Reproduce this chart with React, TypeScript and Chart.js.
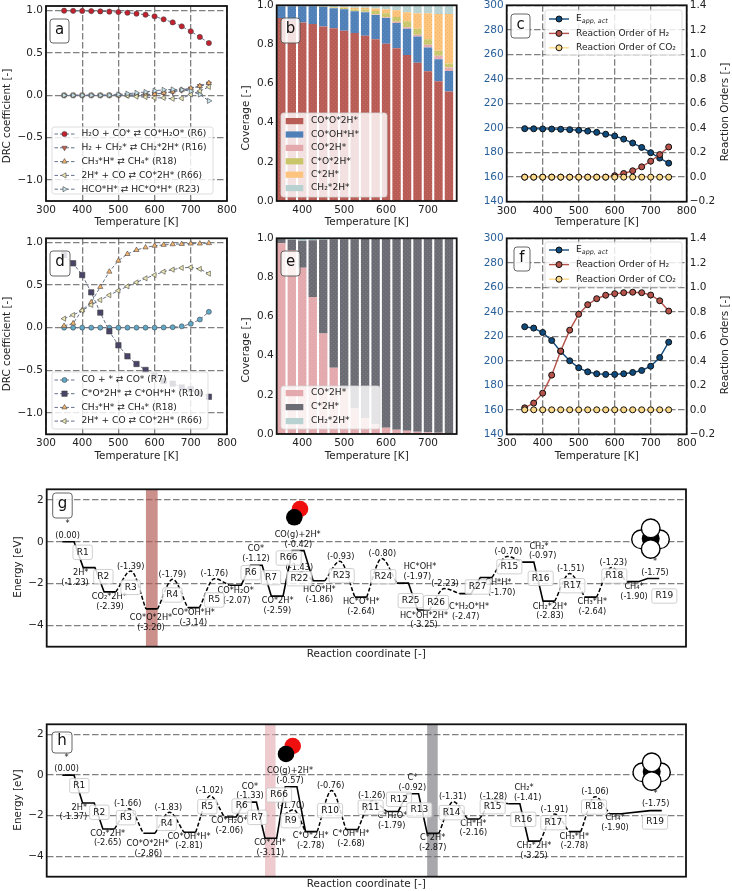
import React, { useEffect, useRef } from "react";
import { Chart, registerables } from "chart.js";
import { drawPoint } from "chart.js/helpers";

Chart.register(...registerables);
Chart.defaults.font.family = "'DejaVu Sans'";
Chart.defaults.color = "#222";

// ---------- data ----------
const temps = [350, 375, 400, 425, 450, 475, 500, 525, 550, 575, 600, 625, 650, 675, 700, 725, 750];
const tempTicks = [300, 400, 500, 600, 700, 800];
const barTempTicks = [400, 500, 600, 700];
const drcTicks = [-1, -0.5, 0, 0.5, 1];
const coverageTicks = [0, 0.2, 0.4, 0.6, 0.8, 1];
const eappTicks = [140, 160, 180, 200, 220, 240, 260, 280, 300];
const orderTicks = [-0.2, 0, 0.2, 0.4, 0.6, 0.8, 1, 1.2, 1.4];
const energyTicks = [-4, -2, 0, 2];

const aR6 = [1.0, 0.998, 0.997, 0.995, 0.992, 0.989, 0.984, 0.976, 0.965, 0.953, 0.933, 0.898, 0.862, 0.815, 0.756, 0.69, 0.618];
const aR16 = [0, 0, 0, 0, 0, 0, 0.001, 0.002, 0.004, 0.008, 0.015, 0.025, 0.04, 0.06, 0.08, 0.11, 0.14];
const aR18 = [0, 0, 0, 0, 0, 0, 0.001, 0.002, 0.005, 0.009, 0.015, 0.03, 0.045, 0.065, 0.085, 0.11, 0.145];
const aR66 = [0, 0, 0, 0, 0, 0, 0.002, -0.005, -0.015, -0.02, -0.03, -0.03, -0.04, -0.035, 0.01, 0.05, 0.1];
const aR23 = [0, 0, 0, 0, 0, 0.002, 0.01, 0.02, 0.03, 0.04, 0.055, 0.065, 0.07, 0.065, 0.05, 0.01, -0.065];

const bRed = [0.935, 0.925, 0.912, 0.905, 0.892, 0.883, 0.87, 0.859, 0.845, 0.826, 0.804, 0.78, 0.746, 0.707, 0.663, 0.612, 0.559];
const bBlue = [0.06, 0.07, 0.083, 0.09, 0.101, 0.102, 0.11, 0.111, 0.12, 0.124, 0.131, 0.13, 0.134, 0.133, 0.121, 0.112, 0.105];
const bPink = [0, 0, 0, 0, 0, 0, 0, 0.001, 0.002, 0.003, 0.004, 0.006, 0.008, 0.01, 0.015, 0.018, 0.018];
const bOlive = [0, 0, 0, 0, 0.002, 0.004, 0.006, 0.008, 0.012, 0.018, 0.02, 0.024, 0.03, 0.03, 0.028, 0.026, 0.02];
const bOrange = [0, 0, 0, 0, 0, 0.002, 0.004, 0.008, 0.009, 0.013, 0.021, 0.035, 0.047, 0.08, 0.133, 0.187, 0.253];
const bTeal = [0.005, 0.005, 0.005, 0.005, 0.005, 0.009, 0.01, 0.013, 0.012, 0.016, 0.02, 0.025, 0.035, 0.04, 0.04, 0.045, 0.045];

const cEapp = [199.5, 199.4, 199.3, 199.2, 199, 198.7, 198.2, 197.5, 196.5, 195, 193.5, 191, 187.8, 184.2, 179.9, 175.5, 171.4];
const cOrderH2 = [0, 0, 0, 0, 0, 0, 0, 0, 0, 0, 0.012, 0.03, 0.052, 0.084, 0.13, 0.184, 0.246];
const cOrderCO2 = [0, 0, 0, 0, 0, 0, 0, 0, 0, 0, 0, 0, 0, 0, 0, 0, 0];

const dR7 = [0, 0, 0, 0, 0, 0, 0, 0, 0, 0, 0, 0.002, 0.005, 0.015, 0.045, 0.095, 0.185];
const dR10 = [0.85, 0.754, 0.617, 0.414, 0.176, -0.043, -0.207, -0.336, -0.426, -0.496, -0.56, -0.625, -0.656, -0.7, -0.72, -0.77, -0.81];
const dR18 = [0.02, 0.05, 0.207, 0.297, 0.477, 0.656, 0.785, 0.863, 0.91, 0.94, 0.96, 0.97, 0.977, 0.98, 0.985, 0.985, 0.99];
const dR66 = [0.105, 0.148, 0.2, 0.266, 0.324, 0.38, 0.434, 0.484, 0.53, 0.578, 0.617, 0.656, 0.68, 0.7, 0.707, 0.688, 0.633];

const ePink = [0.975, 0.94, 0.85, 0.7, 0.513, 0.339, 0.23, 0.13, 0.08, 0.05, 0.032, 0.022, 0.017, 0.012, 0.009, 0.006, 0.005];
const eTeal = [0.003, 0.008, 0.012, 0.01, 0.008, 0.005, 0.005, 0.005, 0.003, 0.002, 0, 0, 0, 0, 0, 0, 0];
const eGray = [0.022, 0.052, 0.138, 0.29, 0.479, 0.656, 0.765, 0.865, 0.917, 0.948, 0.968, 0.978, 0.983, 0.988, 0.991, 0.994, 0.995];

const fEapp = [227.8, 226.7, 223.1, 216.6, 207.6, 200, 194.3, 191, 189.4, 188.9, 188.9, 189.4, 190.5, 192.1, 195.6, 202.7, 215.2];
const fOrderH2 = [0.016, 0.055, 0.136, 0.283, 0.48, 0.65, 0.78, 0.858, 0.907, 0.935, 0.948, 0.956, 0.96, 0.956, 0.937, 0.89, 0.806];
const fOrderCO2 = [0, 0, 0, 0, 0, 0, 0, 0, 0, 0, 0, 0, 0, 0, 0, 0, 0];

// energy of each state along the pathway; one entry per slot of the reaction coordinate
const gLevels = [0, -1.23, -2.39, -1.39, -3.2, -1.79, -3.14, -1.76, -2.07, -1.12, -2.59, -0.42, -1.86, -0.93, -2.64, -0.8, -1.97, -3.25, -2.23, -2.47, -1.7, -0.7, -0.97, -2.83, -1.51, -2.64, -1.23, -1.9, -1.75];
const gBarriers = [3, 5, 7, 13, 15, 18, 21, 24, 26];
const gExtraX = [11.1, 11.45, 12];
const gExtraE = [-1.62, -1.43, -1.86];
const hLevels = [0, -1.37, -2.65, -1.66, -2.86, -1.83, -2.81, -1.02, -2.06, -1.33, -3.11, -0.57, -2.78, -0.76, -2.68, -1.26, -1.79, -0.92, -2.87, -1.31, -2.16, -1.28, -1.41, -3.25, -1.91, -2.78, -1.06, -1.9, null, -1.75];
const hBarriers = [3, 5, 7, 13, 15, 19, 21, 24, 26];
const hExtraX = [10.95, 11.4, 12];
const hExtraE = [-1.95, -1.7, -2.78];

// ---------- label layout (reference px at 3x, relative to the crop origin of each diagram) ----------
type Note = [number, number, string];
const gNotes: Note[] = [
  [203, 133, "*"], [203, 167, "(0.00)"], [242, 280, "2H*"], [225, 310, "(-1.23)"],
  [328, 352, "CO₂*2H*"], [330, 381, "(-2.39)"], [392, 260, "(-1.39)"],
  [453, 415, "CO*O*2H*"], [453, 445, "(-3.20)"], [517, 285, "(-1.79)"],
  [580, 398, "CO*OH*H*"], [580, 428, "(-3.14)"], [643, 283, "(-1.76)"],
  [707, 332, "CO*H₂O*"], [710, 362, "(-2.07)"], [768, 208, "CO*"], [768, 238, "(-1.12)"],
  [833, 364, "CO*2H*"], [832, 393, "(-2.59)"], [893, 165, "CO(g)+2H*"], [895, 195, "(-0.42)"],
  [898, 263, "(-1.43)"], [958, 331, "HCO*H*"], [958, 360, "(-1.86)"], [1022, 232, "(-0.93)"],
  [1084, 367, "HC*O*H*"], [1083, 396, "(-2.64)"], [1147, 222, "(-0.80)"],
  [1260, 262, "HC*OH*"], [1252, 291, "(-1.97)"], [1335, 312, "(-2.23)"],
  [1272, 407, "HC*OH*2H*"], [1272, 436, "(-3.25)"], [1407, 382, "C*H₂O*H*"], [1397, 411, "(-2.47)"],
  [1495, 308, "CH*H*"], [1505, 338, "(-1.70)"], [1525, 216, "(-0.70)"],
  [1617, 200, "CH₂*"], [1628, 228, "(-0.97)"], [1650, 381, "CH₂*2H*"], [1650, 409, "(-2.83)"],
  [1712, 267, "(-1.51)"], [1777, 367, "CH₃*H*"], [1777, 396, "(-2.64)"], [1840, 249, "(-1.23)"],
  [1902, 322, "CH₄*"], [1902, 350, "(-1.90)"], [1965, 245, "*"], [1965, 278, "(-1.75)"],
];
const gSteps: Note[] = [
  [248, 217, "R1"], [310, 290, "R2"], [392, 322, "R3"], [517, 345, "R4"], [643, 360, "R5"],
  [752, 278, "R6"], [813, 293, "R7"], [866, 234, "R66"], [898, 296, "R22"], [1025, 287, "R23"],
  [1150, 290, "R24"], [1232, 362, "R25"], [1308, 368, "R26"], [1433, 321, "R27"], [1528, 260, "R15"],
  [1622, 295, "R16"], [1717, 317, "R17"], [1843, 288, "R18"], [1993, 348, "R19"],
];
const hNotes: Note[] = [
  [200, 130, "*"], [200, 162, "(0.00)"], [238, 278, "2H*"], [220, 307, "(-1.37)"],
  [323, 356, "CO₂*2H*"], [323, 385, "(-2.65)"], [383, 268, "(-1.66)"],
  [443, 387, "CO*O*2H*"], [445, 417, "(-2.86)"], [505, 278, "(-1.83)"],
  [567, 365, "CO*OH*H*"], [567, 394, "(-2.81)"], [628, 228, "(-1.02)"],
  [688, 319, "CO*H₂O*"], [688, 348, "(-2.06)"], [750, 215, "CO*"], [750, 244, "(-1.33)"],
  [810, 384, "CO*2H*"], [811, 414, "(-3.11)"], [870, 168, "CO(g)+2H*"], [870, 197, "(-0.57)"],
  [872, 273, "(-1.70)"], [932, 364, "C*O*2H*"], [932, 393, "(-2.78)"], [992, 212, "(-0.76)"],
  [1053, 358, "C*OH*H*"], [1053, 387, "(-2.68)"], [1115, 243, "(-1.26)"],
  [1177, 303, "C*H₂O*"], [1175, 332, "(-1.79)"], [1237, 190, "C*"], [1237, 218, "(-0.92)"],
  [1298, 370, "C*2H*"], [1298, 398, "(-2.87)"], [1358, 246, "(-1.31)"], [1420, 326, "CH*H*"], [1420, 355, "(-2.16)"],
  [1480, 245, "(-1.28)"], [1572, 220, "CH₂*"], [1583, 249, "(-1.41)"], [1602, 393, "CH₂*2H*"], [1602, 423, "(-3.25)"],
  [1663, 284, "(-1.91)"], [1723, 365, "CH₃*H*"], [1723, 394, "(-2.78)"], [1785, 231, "(-1.06)"],
  [1845, 310, "CH₄*"], [1845, 339, "(-1.90)"], [1967, 237, "*"], [1967, 268, "(-1.75)"],
];
const hSteps: Note[] = [
  [238, 212, "R1"], [298, 292, "R2"], [378, 308, "R3"], [500, 325, "R4"], [622, 275, "R5"],
  [725, 273, "R6"], [772, 307, "R7"], [837, 240, "R66"], [872, 317, "R9"], [990, 287, "R10"],
  [1112, 277, "R11"], [1197, 253, "R12"], [1258, 285, "R13"], [1355, 293, "R14"], [1478, 275, "R15"],
  [1570, 313, "R16"], [1660, 323, "R17"], [1782, 276, "R18"], [1965, 321, "R19"],
];

// ---------- styles ----------
const BLUE_TEXT = "#2a6099";
const C_RED = "#b85c55", C_BLUE = "#4f80b8", C_PINK = "#e3a9ad", C_OLIVE = "#c9c66a", C_ORANGE = "#fcc47c", C_TEAL = "#b8d2d2", C_GRAY = "#6c6c74";
const DASH_LINE = "#66728a";

function hatched(color: string, dot = "rgba(255,255,255,0.22)") {
  const c = document.createElement("canvas");
  c.width = 4; c.height = 4;
  const x = c.getContext("2d")!;
  x.fillStyle = color; x.fillRect(0, 0, 4, 4);
  x.fillStyle = dot; x.fillRect(0, 0, 1, 1); x.fillRect(2, 2, 1, 1);
  return x.createPattern(c, "repeat");
}

const xy = (vals: number[]) => temps.map((x, i) => ({ x, y: vals[i] }));

function drcSeries(label: string, vals: number[], fill: string, style: string, rot: number, radius: number, i: number, n: number) {
  return {
    label, data: xy(vals), borderColor: DASH_LINE, borderWidth: 1, borderDash: [3.5, 2],
    backgroundColor: fill, pointBackgroundColor: fill, pointBorderColor: "#444", pointBorderWidth: 0.6,
    pointStyle: style, pointRotation: rot, pointRadius: radius, order: n - i,
  };
}
function orderSeries(label: string, vals: number[], color: string, axis: string, i: number, lw = 1.4) {
  return {
    label, data: xy(vals), yAxisID: axis, borderColor: color, borderWidth: lw,
    backgroundColor: color, pointBackgroundColor: color, pointBorderColor: "#111", pointBorderWidth: 1,
    pointStyle: "circle", pointRadius: 3, order: 3 - i,
  };
}
function stackSeries(label: string, vals: number[], color: string, dot?: string) {
  return { label, data: xy(vals), backgroundColor: hatched(color, dot), borderWidth: 0, stack: "s" };
}

function energySeries(levels: (number | null)[], barriers: number[], w: number, exX: number[], exE: number[]) {
  const out: any[] = [];
  const solid: any[] = [];
  const dashed = { borderColor: "#000", borderWidth: 1.5, borderDash: [4, 2], pointRadius: 0, cubicInterpolationMode: "monotone" };
  levels.forEach((e, i) => {
    if (e === null) return;
    if (barriers.includes(i)) {
      solid.push({ x: i, y: null });
      out.push({ label: "barrier " + i, ...dashed, data: [{ x: i - 1 + w, y: levels[i - 1] }, { x: i + w / 2, y: e }, { x: i + 1, y: levels[i + 1] }] });
      return;
    }
    solid.push({ x: i, y: e }, { x: i + w, y: e });
  });
  out.push({ label: "barrier extra", ...dashed, data: exX.map((x, i) => ({ x, y: exE[i] })) });
  out.push({ label: "states", borderColor: "#000", borderWidth: 1.6, pointRadius: 0, data: solid, spanGaps: false });
  return out;
}

// ---------- canvas drawing helpers ----------
function richParts(text: string) {
  return text.split(/(\{[^}]*\})/).filter(Boolean).map((p) => (p[0] === "{" ? { t: p.slice(1, -1), sub: true } : { t: p, sub: false }));
}
function richWidth(ctx: any, text: string, size: number) {
  let w = 0;
  for (const p of richParts(text)) {
    ctx.font = (p.sub ? "italic " : "") + (p.sub ? size * 0.7 : size) + "px 'DejaVu Sans'";
    w += ctx.measureText(p.t).width;
  }
  return w;
}
function drawRich(ctx: any, text: string, x: number, y: number, size: number, color: string) {
  ctx.fillStyle = color; ctx.textAlign = "left"; ctx.textBaseline = "middle";
  let cx = x;
  for (const p of richParts(text)) {
    ctx.font = (p.sub ? "italic " : "") + (p.sub ? size * 0.7 : size) + "px 'DejaVu Sans'";
    ctx.fillText(p.t, cx, p.sub ? y + size * 0.22 : y);
    cx += ctx.measureText(p.t).width;
  }
}
function roundBox(ctx: any, x: number, y: number, w: number, h: number, r: number, fill: string, stroke: string, lw = 0.8) {
  ctx.beginPath(); ctx.roundRect(x, y, w, h, r);
  ctx.fillStyle = fill; ctx.fill();
  ctx.strokeStyle = stroke; ctx.lineWidth = lw; ctx.stroke();
}

const overlay = (spec: any) => ({
  id: "panelOverlay",
  beforeDatasetsDraw(chart: any) {
    if (!spec.bands) return;
    const { ctx, chartArea: a, scales } = chart;
    for (const b of spec.bands) {
      const x0 = scales.x.getPixelForValue(b.from), x1 = scales.x.getPixelForValue(b.to);
      ctx.fillStyle = b.color;
      ctx.fillRect(x0, a.top, x1 - x0, a.bottom - a.top);
    }
  },
  afterDatasetsDraw(chart: any) {
    const { ctx, chartArea: a } = chart;
    ctx.save();
    ctx.translate(-spec.canvas[0], -spec.canvas[2]);

    for (const m of spec.mol || []) {
      ctx.beginPath(); ctx.arc(m.x, m.y, m.r, 0, Math.PI * 2);
      ctx.fillStyle = m.fill; ctx.fill();
      if (m.stroke) { ctx.strokeStyle = m.stroke; ctx.lineWidth = 1.4; ctx.stroke(); }
    }

    if (spec.notes) {
      ctx.font = "8.2px 'DejaVu Sans'"; ctx.textAlign = "center"; ctx.textBaseline = "middle"; ctx.fillStyle = "#111";
      for (const [x, y, t] of spec.notes) ctx.fillText(t, x / 3, spec.noteY + y / 3);
    }
    if (spec.steps) {
      for (const [x, y, t] of spec.steps) {
        const px = x / 3, py = spec.noteY + y / 3;
        ctx.font = "9px 'DejaVu Sans'";
        const w = ctx.measureText(t).width + 7.4;
        roundBox(ctx, px - w / 2, py - 7.2, w, 14.4, 2, "rgba(255,255,255,0.82)", "#c4c4c4");
        ctx.fillStyle = "#111"; ctx.textAlign = "center"; ctx.textBaseline = "middle";
        ctx.fillText(t, px, py);
      }
    }

    const lg = spec.legend;
    if (lg) {
      roundBox(ctx, lg.x, lg.y, lg.w, lg.h, 2.5, "rgba(255,255,255,0.82)", "#d4d4d4");
      lg.items.forEach((it: any, i: number) => {
        const y = lg.first + lg.step * i;
        if (it.swatch) {
          ctx.fillStyle = it.swatch;
          ctx.fillRect(lg.sx, y - 3, lg.sw, 6.2);
        } else {
          ctx.save();
          ctx.strokeStyle = it.line; ctx.lineWidth = it.lw; ctx.setLineDash(it.dash || []);
          ctx.beginPath(); ctx.moveTo(lg.sx, y); ctx.lineTo(lg.sx + lg.sw, y); ctx.stroke();
          ctx.setLineDash([]);
          ctx.fillStyle = it.fill; ctx.strokeStyle = it.edge; ctx.lineWidth = it.ew;
          drawPoint(ctx, { pointStyle: it.style, rotation: it.rot || 0, radius: it.r, borderWidth: it.ew }, lg.sx + lg.sw / 2, y);
          ctx.restore();
        }
        drawRich(ctx, it.text, lg.tx, y, lg.size, "#222");
      });
    }

    if (spec.tag) {
      const t = spec.tag;
      roundBox(ctx, t.x, t.y, t.w, t.h, 3, "rgba(255,255,255,0.82)", "#555", 0.9);
      ctx.fillStyle = "#111"; ctx.font = "15px 'DejaVu Sans'"; ctx.textAlign = "center"; ctx.textBaseline = "middle";
      ctx.fillText(t.text, t.x + t.w / 2, t.y + t.h / 2 - 1);
    }

    for (const v of spec.vtitles || []) {
      ctx.save();
      ctx.translate(v.x, v.y); ctx.rotate(-Math.PI / 2);
      const w = richWidth(ctx, v.text, 10.4);
      drawRich(ctx, v.text, -w / 2, 0, 10.4, v.color || "#222");
      ctx.restore();
    }
    ctx.restore();

    ctx.strokeStyle = "#111"; ctx.lineWidth = 1.8;
    ctx.strokeRect(a.left, a.top, a.right - a.left, a.bottom - a.top);
  },
});

function fixedTicks(list: number[]) {
  return (scale: any) => { scale.ticks = list.map((value) => ({ value })); };
}
const minus = (s: string) => s.replace("-", "−");
const f1 = (v: any) => minus(Number(v).toFixed(1));
const f0 = (v: any) => minus(Number(v).toFixed(0));

const GRID = { color: "#808080", lineWidth: 1.3, drawTicks: false };
const NO_GRID = { display: false, drawTicks: false };
const GRID_BORDER = { display: false, dash: [6.5, 2.5] };
const TICK_FONT = { size: 10.5 };

function makeConfig(spec: any) {
  const [x0, x1, y0, y1] = spec.canvas;
  const [L, R, T, B] = spec.plot;
  const scales: any = {
    x: {
      type: "linear", min: spec.x[0], max: spec.x[1], offset: false,
      stacked: spec.type === "bar" ? true : undefined,
      afterBuildTicks: fixedTicks(spec.xTicks || []),
      afterFit: (s: any) => { s.height = y1 - B; },
      ticks: { display: !!spec.xTicks, callback: f0, font: TICK_FONT, padding: 3, autoSkip: false, maxRotation: 0, color: "#222" },
      grid: spec.xGrid ? GRID : NO_GRID,
      border: GRID_BORDER,
      title: { display: true, text: spec.xTitle, font: { size: 10.4 }, padding: 0, color: "#222" },
    },
    y: {
      type: "linear", min: spec.y[0], max: spec.y[1],
      stacked: spec.type === "bar" ? true : undefined,
      afterBuildTicks: fixedTicks(spec.yTicks),
      afterFit: (s: any) => { s.width = L - x0; },
      ticks: { callback: spec.yFmt, font: TICK_FONT, padding: 3, autoSkip: false, color: spec.yColor || "#222" },
      grid: spec.yGrid ? GRID : NO_GRID,
      border: GRID_BORDER,
    },
  };
  if (spec.y2) {
    scales.y2 = {
      type: "linear", position: "right", min: spec.y2[0], max: spec.y2[1],
      afterBuildTicks: fixedTicks(spec.y2Ticks),
      afterFit: (s: any) => { s.width = x1 - R; },
      ticks: { callback: f1, font: TICK_FONT, padding: 3, autoSkip: false, color: "#222" },
      grid: NO_GRID,
      border: { display: false },
    };
  }
  return {
    type: spec.type,
    data: { datasets: spec.datasets() },
    plugins: [overlay(spec)],
    options: {
      responsive: false, animation: false, events: [],
      layout: { padding: { left: 0, top: T - y0, right: spec.y2 ? 0 : x1 - R, bottom: 0 } },
      datasets: { bar: { categoryPercentage: 1, barPercentage: 0.8 } },
      plugins: { legend: { display: false }, tooltip: { enabled: false } },
      scales,
    },
  };
}

function Panel({ spec }: { spec: any }) {
  const ref = useRef<HTMLCanvasElement>(null);
  useEffect(() => {
    const chart = new Chart(ref.current as any, makeConfig(spec) as any);
    return () => chart.destroy();
  }, []);
  const [x0, x1, y0, y1] = spec.canvas;
  return <canvas ref={ref} width={x1 - x0} height={y1 - y0} style={{ position: "absolute", left: x0, top: y0, width: x1 - x0, height: y1 - y0 }} />;
}

const dashItem = (text: string, fill: string, style: string, rot: number, r: number) => ({ text, fill, style, rot, r, line: DASH_LINE, lw: 1, dash: [3.5, 2], edge: "#444", ew: 0.6 });
const orderItem = (text: string, color: string, lw = 1.4) => ({ text, fill: color, style: "circle", rot: 0, r: 3, line: color, lw, edge: "#111", ew: 1 });
const swatch = (text: string, color: string) => ({ text, swatch: color });

const TEMP = "Temperature [K]";
const RED_D = "#c4202e", OR_DOWN = "#c9604d", OR_UP = "#f7b46c", PALE_Y = "#f1ecb4", PALE_B = "#c8e6ee", TEAL_C = "#5fa8c8", PURP = "#4a4468";
const E_C = "#0f4a7d", H2_C = "#b5524a", CO2_C = "#fdd98a";
const LEGEND_SIZE = 9.1;
const DOT_SOFT = "rgba(255,255,255,0.1)";

const whiteAtom = (x: number, y: number) => ({ x, y, r: 9.3, fill: "#fff", stroke: "#000" });
const molG = [
  { x: 300, y: 509, r: 8.3, fill: "#f00f0f" }, { x: 294.3, y: 517.3, r: 8.3, fill: "#000" },
  whiteAtom(641, 539.3), whiteAtom(660, 539.3),
  { x: 650.7, y: 538.5, r: 9, fill: "#000" },
  whiteAtom(650.7, 528.3), whiteAtom(650.7, 549),
];
const molH = [
  { x: 292.7, y: 746, r: 8.3, fill: "#f00f0f" }, { x: 286, y: 754, r: 8.3, fill: "#000" },
  whiteAtom(642.3, 772.3), whiteAtom(661, 772.3),
  { x: 651.7, y: 771.7, r: 9, fill: "#000" },
  whiteAtom(651.7, 762.3), whiteAtom(651.7, 781),
];

const specs: any[] = [
  {
    canvas: [0, 240, -4, 229], plot: [46, 227, 6, 201], type: "line", x: [300, 800], y: [-1.248, 1.0555],
    xTicks: tempTicks, yTicks: drcTicks, yFmt: f1, xGrid: true, yGrid: true, xTitle: TEMP,
    datasets: () => [
      drcSeries("R6", aR6, RED_D, "circle", 0, 2.6, 0, 5), drcSeries("R16", aR16, OR_DOWN, "triangle", 180, 3, 1, 5),
      drcSeries("R18", aR18, OR_UP, "triangle", 0, 3, 2, 5), drcSeries("R66", aR66, PALE_Y, "triangle", -90, 3, 3, 5),
      drcSeries("R23", aR23, PALE_B, "triangle", 90, 3, 4, 5),
    ],
    legend: {
      x: 52, y: 127, w: 161, h: 67, first: 134, step: 13.8, sx: 54.5, sw: 20, tx: 81.5, size: LEGEND_SIZE,
      items: [
        dashItem("H₂O + CO* ⇄ CO*H₂O* (R6)", RED_D, "circle", 0, 2.6), dashItem("H₂ + CH₂* ⇄ CH₂*2H* (R16)", OR_DOWN, "triangle", 180, 3),
        dashItem("CH₃*H* ⇄ CH₄* (R18)", OR_UP, "triangle", 0, 3), dashItem("2H* + CO ⇄ CO*2H* (R66)", PALE_Y, "triangle", -90, 3),
        dashItem("HCO*H* ⇄ HC*O*H* (R23)", PALE_B, "triangle", 90, 3),
      ],
    },
    tag: { x: 50, y: 19, w: 19, h: 24, text: "a" },
    vtitles: [{ x: 7.3, y: 116, text: "DRC coefficient [-]" }],
  },
  {
    canvas: [239, 465, -4, 229], plot: [276.7, 456.7, 5.3, 201], type: "bar", x: [339, 768.5], y: [0, 1],
    xTicks: barTempTicks, yTicks: coverageTicks, yFmt: f1, xTitle: TEMP,
    datasets: () => [
      stackSeries("CO*O*2H*", bRed, C_RED, DOT_SOFT), stackSeries("CO*OH*H*", bBlue, C_BLUE, DOT_SOFT), stackSeries("CO*2H*", bPink, C_PINK),
      stackSeries("C*O*2H*", bOlive, C_OLIVE), stackSeries("C*2H*", bOrange, C_ORANGE, "rgba(230,140,60,0.3)"), stackSeries("CH₂*2H*", bTeal, C_TEAL),
    ],
    legend: {
      x: 281, y: 113, w: 106, h: 84, first: 121, step: 13.4, sx: 285.7, sw: 17.6, tx: 311, size: LEGEND_SIZE,
      items: [swatch("CO*O*2H*", C_RED), swatch("CO*OH*H*", C_BLUE), swatch("CO*2H*", C_PINK), swatch("C*O*2H*", C_OLIVE), swatch("C*2H*", C_ORANGE), swatch("CH₂*2H*", C_TEAL)],
    },
    tag: { x: 281, y: 18, w: 19, h: 25, text: "b" },
    vtitles: [{ x: 246, y: 118, text: "Coverage [-]" }, { x: 471.5, y: 103, text: "E{app, act} [kJ/mol]", color: BLUE_TEXT }],
  },
  {
    canvas: [465, 732, -4, 229], plot: [506.7, 686.7, 5.3, 201.7], type: "line", x: [300, 800], y: [140, 300],
    y2: [-0.2, 1.4], y2Ticks: orderTicks, xTicks: tempTicks, yTicks: eappTicks, yFmt: f0, yColor: BLUE_TEXT, xGrid: true, yGrid: true, xTitle: TEMP,
    datasets: () => [orderSeries("Eapp", cEapp, E_C, "y", 0), orderSeries("H2", cOrderH2, H2_C, "y2", 1), orderSeries("CO2", cOrderCO2, CO2_C, "y2", 2)],
    legend: {
      x: 545, y: 10, w: 137, h: 45, first: 19, step: 14.4, sx: 549, sw: 20, tx: 576, size: LEGEND_SIZE,
      items: [orderItem("E{app, act}", E_C), orderItem("Reaction Order of H₂", H2_C), orderItem("Reaction Order of CO₂", CO2_C)],
    },
    tag: { x: 511, y: 14, w: 19, h: 24, text: "c" },
    vtitles: [{ x: 725, y: 112, text: "Reaction Orders [-]" }],
  },
  {
    canvas: [0, 240, 229, 463], plot: [46, 227, 238.3, 434.3], type: "line", x: [300, 800], y: [-1.25, 1.047],
    xTicks: tempTicks, yTicks: drcTicks, yFmt: f1, xGrid: true, yGrid: true, xTitle: TEMP,
    datasets: () => [
      drcSeries("R7", dR7, TEAL_C, "circle", 0, 2.5, 0, 4), drcSeries("R10", dR10, PURP, "rect", 0, 3.8, 1, 4),
      drcSeries("R18", dR18, OR_UP, "triangle", 0, 3, 2, 4), drcSeries("R66", dR66, PALE_Y, "triangle", -90, 3, 3, 4),
    ],
    legend: {
      x: 52, y: 372, w: 156, h: 57, first: 380, step: 13.7, sx: 54.5, sw: 20, tx: 81.5, size: LEGEND_SIZE,
      items: [
        dashItem("CO + * ⇄ CO* (R7)", TEAL_C, "circle", 0, 2.5), dashItem("C*O*2H* ⇄ C*OH*H* (R10)", PURP, "rect", 0, 3.8),
        dashItem("CH₃*H* ⇄ CH₄* (R18)", OR_UP, "triangle", 0, 3), dashItem("2H* + CO ⇄ CO*2H* (R66)", PALE_Y, "triangle", -90, 3),
      ],
    },
    tag: { x: 50, y: 251, w: 20, h: 25, text: "d" },
    vtitles: [{ x: 7.3, y: 344, text: "DRC coefficient [-]" }],
  },
  {
    canvas: [239, 465, 229, 463], plot: [276.7, 456.7, 238.3, 434], type: "bar", x: [339, 768.5], y: [0, 1],
    xTicks: barTempTicks, yTicks: coverageTicks, yFmt: f1, xTitle: TEMP,
    datasets: () => [stackSeries("CO*2H*", ePink, C_PINK, "rgba(255,255,255,0.14)"), stackSeries("C*2H*", eGray, C_GRAY, DOT_SOFT), stackSeries("CH₂*2H*", eTeal, C_TEAL)],
    legend: {
      x: 281, y: 386, w: 99, h: 43, first: 393, step: 14, sx: 285.7, sw: 17.6, tx: 311, size: LEGEND_SIZE,
      items: [swatch("CO*2H*", C_PINK), swatch("C*2H*", C_GRAY), swatch("CH₂*2H*", C_TEAL)],
    },
    tag: { x: 281, y: 251, w: 19, h: 25, text: "e" },
    vtitles: [{ x: 246, y: 350, text: "Coverage [-]" }, { x: 471.5, y: 336, text: "E{app, act} [kJ/mol]", color: BLUE_TEXT }],
  },
  {
    canvas: [465, 732, 229, 463], plot: [506.7, 686.7, 238.3, 434.3], type: "line", x: [300, 800], y: [140, 300],
    y2: [-0.2, 1.4], y2Ticks: orderTicks, xTicks: tempTicks, yTicks: eappTicks, yFmt: f0, yColor: BLUE_TEXT, xGrid: true, yGrid: true, xTitle: TEMP,
    datasets: () => [orderSeries("Eapp", fEapp, E_C, "y", 0), orderSeries("H2", fOrderH2, H2_C, "y2", 1), orderSeries("CO2", fOrderCO2, CO2_C, "y2", 2)],
    legend: {
      x: 545, y: 242, w: 137, h: 45, first: 250, step: 14.6, sx: 549, sw: 20, tx: 576, size: LEGEND_SIZE,
      items: [orderItem("E{app, act}", E_C), orderItem("Reaction Order of H₂", H2_C), orderItem("Reaction Order of CO₂", CO2_C)],
    },
    tag: { x: 514, y: 247, w: 16, h: 24, text: "f" },
    vtitles: [{ x: 725, y: 345, text: "Reaction Orders [-]" }],
  },
  {
    canvas: [0, 732, 480, 661], plot: [46.7, 686, 489.3, 646.7], type: "line", x: [-0.748, 29.84], y: [-5, 2.5],
    yTicks: energyTicks, yFmt: f0, yGrid: true, xTitle: "Reaction coordinate [-]",
    datasets: () => energySeries(gLevels, gBarriers, 0.56, gExtraX, gExtraE),
    bands: [{ from: 4, to: 4.56, color: "rgba(178,92,84,0.68)" }],
    notes: gNotes, steps: gSteps, noteY: 480, mol: molG,
    tag: { x: 52.7, y: 493, w: 19.5, h: 25, text: "g" },
    vtitles: [{ x: 18, y: 567, text: "Energy [eV]" }],
  },
  {
    canvas: [0, 732, 715, 891], plot: [46.7, 686, 724, 876.7], type: "line", x: [-0.771, 30.77], y: [-5, 2.5],
    yTicks: energyTicks, yFmt: f0, yGrid: true, xTitle: "Reaction coordinate [-]",
    datasets: () => energySeries(hLevels, hBarriers, 0.575, hExtraX, hExtraE),
    bands: [{ from: 10, to: 10.52, color: "rgba(227,169,173,0.6)" }, { from: 18, to: 18.52, color: "rgba(108,108,116,0.6)" }],
    notes: hNotes, steps: hSteps, noteY: 715, mol: molH,
    tag: { x: 52, y: 732, w: 20, h: 21, text: "h" },
    vtitles: [{ x: 18, y: 800, text: "Energy [eV]" }],
  },
];

export default function App() {
  return (
    <div style={{ position: "absolute", left: 0, top: 0, width: 732, height: 891, overflow: "hidden", background: "#fff", filter: "blur(0.35px)" }}>
      {specs.map((s, i) => <Panel key={i} spec={s} />)}
    </div>
  );
}
